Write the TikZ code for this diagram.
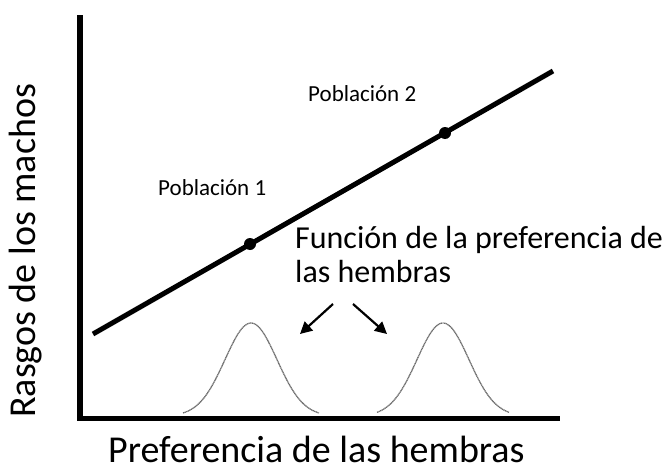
\documentclass[tikz,border=0pt]{standalone}
\usepackage{fontspec}
\setmainfont{Carlito}
\usetikzlibrary{arrows.meta}
\tikzset{
  axis/.style={line width=5.5pt, line join=miter, line cap=butt},
  trendline/.style={line width=5pt},
  popdot/.style={circle, fill=black, inner sep=0pt, minimum size=12pt},
  bell/.style={gray!85!black, line width=1.3pt, dash pattern=on 1.2pt off 0.5pt},
  pointer/.style={line width=2.2pt, -{Triangle[length=12pt,width=12pt]}},
  poplabel/.style={anchor=base west, inner sep=0pt, font=\fontsize{23}{26}\selectfont},
  biglabel/.style={inner sep=0pt, font=\fontsize{38}{42}\selectfont},
}
\begin{document}
\begin{tikzpicture}[x=1pt, y=-1pt]
\useasboundingbox (0,0) rectangle (667,471);
% axes
\coordinate (ytop) at (80,15);
\coordinate (origin) at (80,418.5);
\coordinate (xend) at (560,418.5);
\draw[axis] (ytop) -- (origin) -- (xend);
% trend line
\coordinate (lstart) at (93,334);
\coordinate (lend) at (553,71);
\draw[trendline] (lstart) -- (lend);
\node[popdot] (p1) at (250,244) {};
\node[popdot] (p2) at (445,133) {};
% labels
\node[poplabel] (l1) at (158,195) {Población 1};
\node[poplabel] (l2) at (308,101) {Población 2};
\node[anchor=base west, inner sep=0pt, align=left, font=\fontsize{32}{34}\selectfont] (fun) at (295,282) {Función de la preferencia de\\las hembras};
% bell curves
\draw[bell] plot[domain=-68:68, samples=80] ({251+\x},{416-93*exp(-(\x)^2/(2*26^2))});
\draw[bell] plot[domain=-66:66, samples=80] ({443+\x},{416-93*exp(-(\x)^2/(2*26^2))});
% arrows
\coordinate (a1s) at (333,304);
\coordinate (a1e) at (300,334);
\coordinate (a2s) at (353,304);
\coordinate (a2e) at (387,334);
\draw[pointer] (a1s) -- (a1e);
\draw[pointer] (a2s) -- (a2e);
% axis titles
\node[biglabel, anchor=base west] (xlab) at (108,462) {Preferencia de las hembras};
\node[biglabel, anchor=base west, rotate=90] (ylab) at (35,418) {Rasgos de los machos};
\end{tikzpicture}
\end{document}
